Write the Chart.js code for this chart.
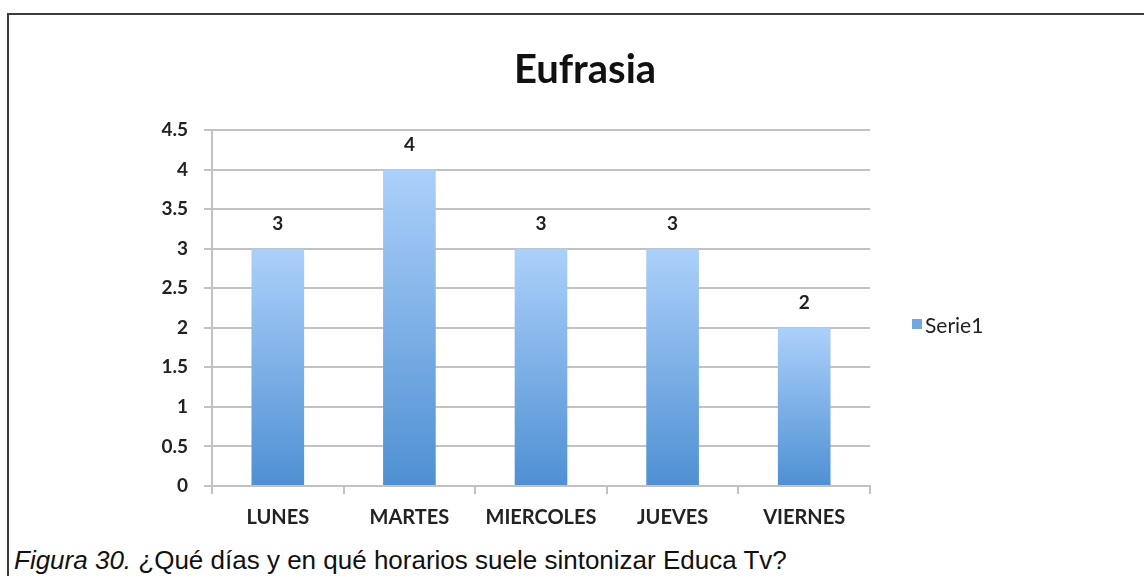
<!DOCTYPE html>
<html lang="es">
<head>
<meta charset="UTF-8">
<title>Eufrasia</title>
<script src="https://cdn.jsdelivr.net/npm/chart.js@4.4.1/dist/chart.umd.min.js"></script>
<style>
    html, body { margin:0; padding:0; background:#fff; }
    body { width:1144px; height:576px; position:relative; overflow:hidden; }
    #frame {
        position:absolute; left:7px; top:13px; width:1137px; height:563px;
        border-top:2px solid #3c3c3c; border-left:2px solid #3c3c3c;
        box-sizing:border-box;
    }
    #board { position:absolute; left:0; top:0; width:1144px; height:545px; }
    #caption {
        position:absolute; left:14px; top:547px;
        font-family:"Liberation Sans", Arial, sans-serif; font-size:26px; line-height:26px; color:#111;
        white-space:nowrap;
    }
</style>
</head>
<body>
    <div id="frame"></div>
    <div id="board">
        <canvas id="chart1" width="1144" height="545"></canvas>
    </div>
    <div id="caption"><i>Figura 30.</i> ¿Qué días y en qué horarios suele sintonizar Educa Tv?</div>

<script>
    const dias = ['LUNES','MARTES','MIERCOLES','JUEVES','VIERNES'];
    const serie1 = [3,4,3,3,2];
    const titulo = 'Eufrasia';
    const serieNombre = 'Serie1';

    const gris = '#c2c2c2';
    const letra = 'Lato, "Open Sans", sans-serif';

    // degradado vertical de cada barra (claro arriba, oscuro abajo)
    function degradado(context){
        const chart = context.chart;
        const area = chart.chartArea;
        if(!area || context.type !== 'data') return '#74a7e0';
        const y = chart.scales.y;
        const top = y.getPixelForValue(context.raw);
        const base = y.getPixelForValue(0);
        const g = chart.ctx.createLinearGradient(0, top, 0, base);
        g.addColorStop(0, '#acd0fa');
        g.addColorStop(1, '#4e90d3');
        return g;
    }

    // numeros encima de las barras
    const etiquetas = {
        id:'etiquetas',
        afterDatasetsDraw(chart){
            const ctx = chart.ctx;
            const meta = chart.getDatasetMeta(0);
            ctx.save();
            ctx.font = 'bold 19px ' + letra;
            ctx.fillStyle = '#222';
            ctx.textAlign = 'center';
            ctx.textBaseline = 'middle';
            meta.data.forEach((bar, i) => {
                ctx.fillText(chart.data.datasets[0].data[i], bar.x, bar.y - 25);
            });
            ctx.restore();
        }
    };

    // leyenda a la derecha del area del grafico
    const leyenda = {
        id:'leyenda',
        afterDraw(chart){
            const ctx = chart.ctx;
            const a = chart.chartArea;
            const x = a.right + 42;
            const y = (a.top + a.bottom) / 2 + 18;
            ctx.save();
            ctx.fillStyle = '#74a7e0';
            ctx.fillRect(x, y - 7, 10, 10);
            ctx.font = '21px ' + letra;
            ctx.fillStyle = '#222';
            ctx.textAlign = 'left';
            ctx.textBaseline = 'middle';
            ctx.fillText(serieNombre, x + 13, y);
            ctx.restore();
        }
    };

    const ctx = document.getElementById('chart1').getContext('2d');
    new Chart(ctx, {
        type:'bar',
        data:{
            labels:dias,
            datasets:[{
                label:serieNombre,
                data:serie1,
                backgroundColor:degradado,
                borderWidth:0,
                barPercentage:0.4,
                categoryPercentage:1
            }]
        },
        plugins:[etiquetas, leyenda],
        options:{
            responsive:false,
            animation:false,
            layout:{ padding:{ left:26, right:0, top:0, bottom:0 } },
            plugins:{
                title:{
                    display:true,
                    text:titulo,
                    color:'#111',
                    font:{ family:letra, size:40, weight:'bold' },
                    padding:{ top:46, bottom:36 }
                },
                legend:{ display:false },
                tooltip:{ enabled:false }
            },
            scales:{
                y:{
                    min:0, max:4.5,
                    ticks:{
                        stepSize:0.5, color:'#222', padding:16,
                        font:{ family:letra, size:19, weight:'bold' },
                        callback:(v) => String(v)
                    },
                    grid:{ color:gris, lineWidth:2, tickLength:8 },
                    border:{ color:gris, width:2 },
                    afterFit(scale){ scale.width = 186; }
                },
                // eje vacio a la derecha: reserva el hueco de la leyenda
                hueco:{
                    position:'right',
                    ticks:{ display:false },
                    grid:{ display:false },
                    border:{ display:false },
                    afterFit(scale){ scale.width = 274; }
                },
                x:{
                    ticks:{ color:'#222', padding:12, font:{ family:letra, size:20, weight:'bold' } },
                    grid:{ drawOnChartArea:false, color:gris, lineWidth:2, tickLength:8 },
                    border:{ color:gris, width:2 },
                    afterFit(scale){ scale.height = 59; }
                }
            }
        }
    });
</script>
</body>
</html>
